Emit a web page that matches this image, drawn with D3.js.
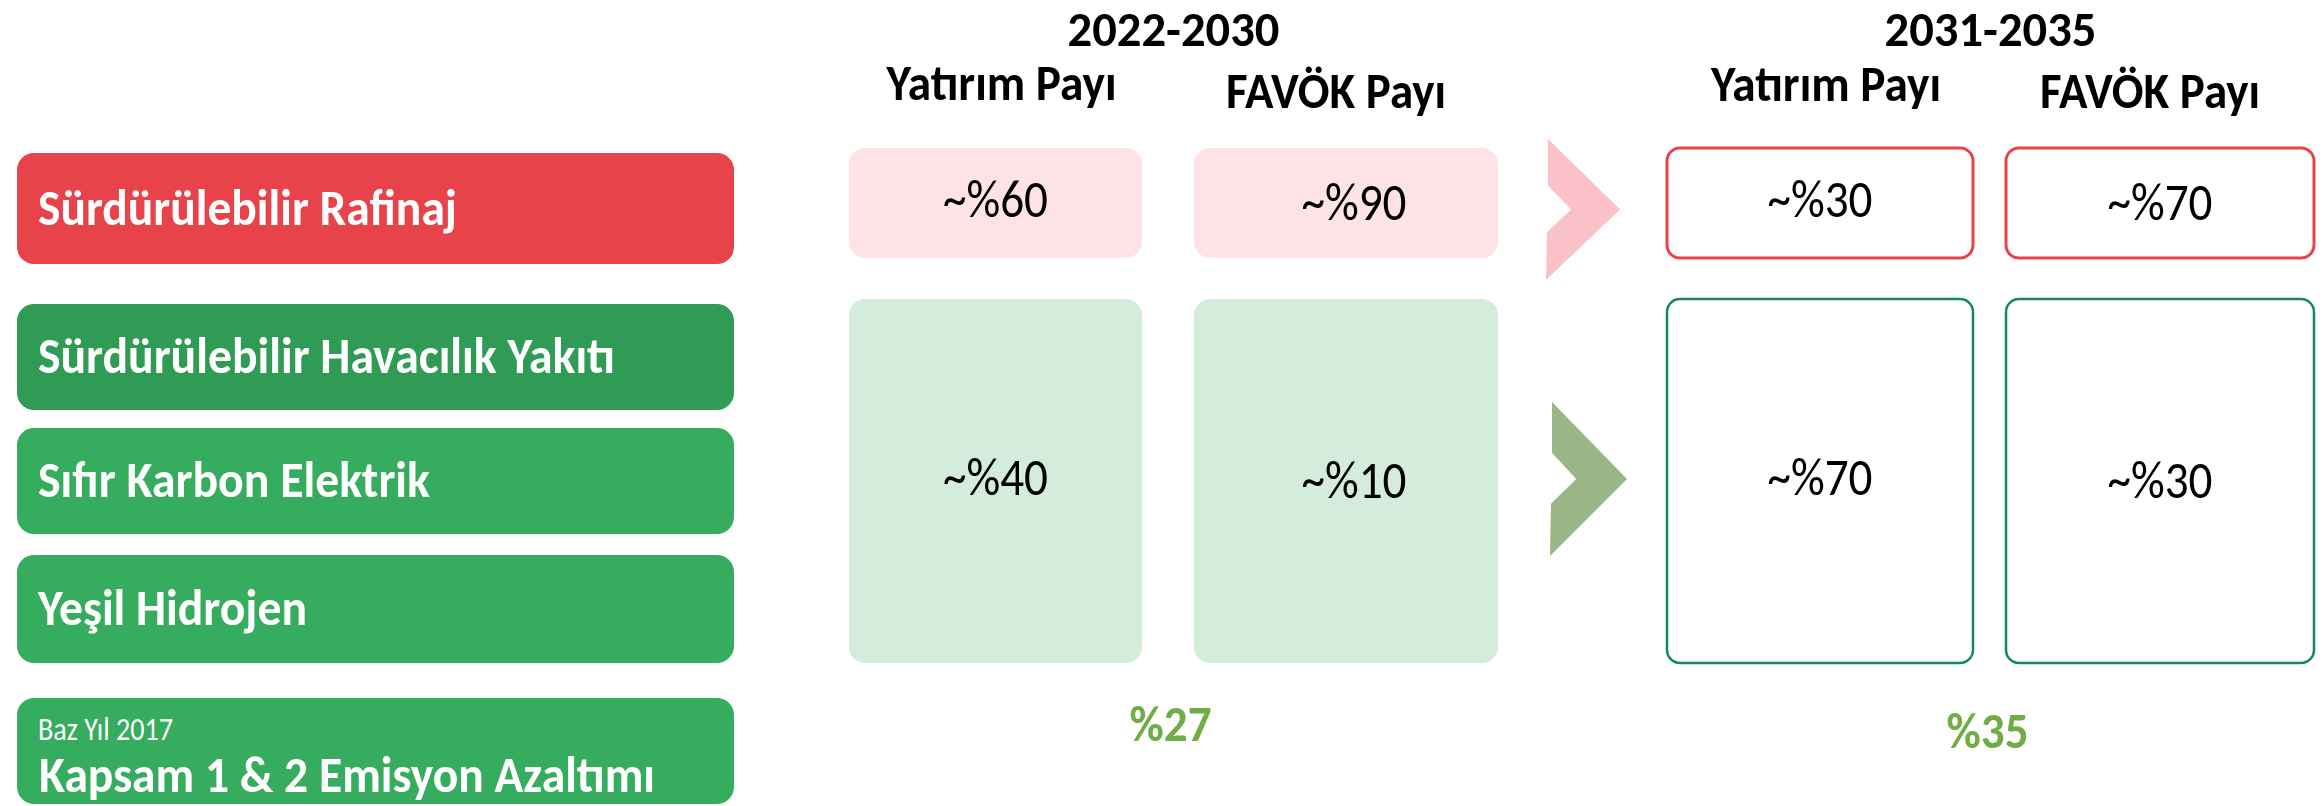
<!DOCTYPE html>
<html>
<head>
<meta charset="utf-8">
<script src="https://cdn.jsdelivr.net/npm/d3@7"></script>
<style>
  html, body { margin: 0; padding: 0; background: #ffffff; }
  svg { display: block; }
  text { font-family: Carlito, Calibri, Lato, "Open Sans", sans-serif; }
</style>
</head>
<body>
<svg id="chart" width="2323" height="806"></svg>
<script>
// ---------------- DATA ----------------
const categories = [
  "Sürdürülebilir Rafinaj",
  "Sürdürülebilir Havacılık Yakıtı",
  "Sıfır Karbon Elektrik",
  "Yeşil Hidrojen"
];
const baseYearLabel = "Baz Yıl 2017";
const emissionLabel = "Kapsam 1 & 2 Emisyon Azaltımı";
const periods = ["2022-2030", "2031-2035"];
const metrics = ["Yatırım Payı", "FAVÖK Payı"];
const segments = ["Rafinaj", "Yeşil"];           // row groups of share boxes
const investShare2022 = [60, 40];               // Yatırım Payı 2022-2030 (Rafinaj, Yeşil)
const ebitdaShare2022 = [90, 10];               // FAVÖK Payı 2022-2030
const investShare2035 = [30, 70];               // Yatırım Payı 2031-2035
const ebitdaShare2035 = [70, 30];               // FAVÖK Payı 2031-2035
const emissionReduction = [27, 35];             // % per period

// ---------------- BUILD TABLE ----------------
const shareTable = [
  [investShare2022, ebitdaShare2022],
  [investShare2035, ebitdaShare2035]
];
const cells = [];
periods.forEach((p, pi) => metrics.forEach((m, mi) => segments.forEach((s, si) => {
  cells.push({ period: p, pi, metric: m, mi, segment: s, si, value: shareTable[pi][mi][si] });
})));

// ---------------- LAYOUT ----------------
const svg = d3.select("#chart");
svg.append("rect").attr("width", 2323).attr("height", 806).attr("fill", "#ffffff");

// left category boxes
const leftKeys = categories.concat([emissionLabel]);
const leftY = d3.scaleOrdinal().domain(leftKeys).range([153, 304, 428, 555, 698]);
const leftH = d3.scaleOrdinal().domain(leftKeys).range([111, 106, 106, 108, 106]);
const leftFill = d3.scaleOrdinal().domain(leftKeys).range(["#E8424A", "#2F9B54", "#35AC5E", "#35AC5E", "#35AC5E"]);
const leftTextLen = d3.scaleOrdinal().domain(leftKeys).range([419, 577, 392, 269, 616]);
const leftX = 17, leftW = 717;
const CAP = 0.644; // cap-height ratio (Calibri/Carlito metrics)

const lg = svg.append("g");
lg.selectAll("rect.cat").data(leftKeys).join("rect")
  .attr("class", "cat")
  .attr("x", leftX).attr("y", d => leftY(d))
  .attr("width", leftW).attr("height", d => leftH(d))
  .attr("rx", 17).attr("ry", 17)
  .attr("fill", d => leftFill(d));

const catFont = 33 / CAP;
lg.selectAll("text.cat").data(categories).join("text")
  .attr("class", "cat")
  .attr("x", 38)
  .attr("y", d => leftY(d) + leftH(d) / 2 + 16)
  .attr("fill", "#ffffff")
  .attr("font-weight", 700)
  .attr("font-size", catFont)
  .attr("textLength", d => leftTextLen(d))
  .attr("lengthAdjust", "spacingAndGlyphs")
  .text(d => d);

lg.append("text")
  .attr("x", 38).attr("y", 740)
  .attr("fill", "#ffffff").attr("font-weight", 400)
  .attr("font-size", 21 / CAP)
  .attr("textLength", 135).attr("lengthAdjust", "spacingAndGlyphs")
  .text(baseYearLabel);
lg.append("text")
  .attr("x", 39).attr("y", 792)
  .attr("fill", "#ffffff").attr("font-weight", 700)
  .attr("font-size", 33 / CAP)
  .attr("textLength", leftTextLen(emissionLabel)).attr("lengthAdjust", "spacingAndGlyphs")
  .text(emissionLabel);

// share-box columns
const colKey = (pi, mi) => periods[pi] + "|" + metrics[mi];
const colKeys = [colKey(0,0), colKey(0,1), colKey(1,0), colKey(1,1)];
const colX = d3.scaleOrdinal().domain(colKeys).range([849, 1194, 1667, 2006]);
const colW = d3.scaleOrdinal().domain(colKeys).range([293, 304, 306, 308]);
const rowTop = d3.scaleOrdinal().domain(segments).range([148, 299]);
const rowH = d3.scaleOrdinal().domain(segments).range([110, 364]);

const fillStyle = {
  "0|Rafinaj": { fill: "#FEE3E6", stroke: "none", sw: 0 },
  "0|Yeşil":   { fill: "#D4ECDC", stroke: "none", sw: 0 },
  "1|Rafinaj": { fill: "#ffffff", stroke: "#E8424A", sw: 3 },
  "1|Yeşil":   { fill: "#ffffff", stroke: "#138A5C", sw: 2.5 }
};

const cg = svg.append("g");
cg.selectAll("rect.share").data(cells).join("rect")
  .attr("class", "share")
  .attr("x", d => colX(colKey(d.pi, d.mi)))
  .attr("y", d => rowTop(d.segment))
  .attr("width", d => colW(colKey(d.pi, d.mi)))
  .attr("height", d => rowH(d.segment))
  .attr("rx", d => d.pi === 0 ? 16 : 13)
  .attr("ry", d => d.pi === 0 ? 16 : 13)
  .attr("fill", d => fillStyle[d.pi + "|" + d.segment].fill)
  .attr("stroke", d => fillStyle[d.pi + "|" + d.segment].stroke)
  .attr("stroke-width", d => fillStyle[d.pi + "|" + d.segment].sw);

const valFont = 34 / CAP;
cg.selectAll("text.share").data(cells).join("text")
  .attr("class", "share")
  .attr("x", d => colX(colKey(d.pi, d.mi)) + colW(colKey(d.pi, d.mi)) / 2 + (d.mi === 1 && d.pi === 0 ? 8 : 0))
  .attr("y", d => rowTop(d.segment) + rowH(d.segment) / 2 + 14 + (d.mi === 1 ? 3 : 0))
  .attr("text-anchor", "middle")
  .attr("fill", "#000000")
  .attr("font-weight", 400)
  .attr("font-size", valFont)
  .attr("textLength", 105)
  .attr("lengthAdjust", "spacingAndGlyphs")
  .text(d => "~%" + d.value);

// headers
const periodCenter = pi => (colX(colKey(pi, 0)) + colX(colKey(pi, 1)) + colW(colKey(pi, 1))) / 2;
const hg = svg.append("g");
hg.selectAll("text.period").data(periods).join("text")
  .attr("class", "period")
  .attr("x", (d, i) => periodCenter(i))
  .attr("y", 46)
  .attr("text-anchor", "middle")
  .attr("font-weight", 700)
  .attr("font-size", 31 / CAP)
  .attr("fill", "#000000")
  .attr("textLength", 212)
  .attr("lengthAdjust", "spacingAndGlyphs")
  .text(d => d);

const headerCells = [];
periods.forEach((p, pi) => metrics.forEach((m, mi) => headerCells.push({ pi, mi, label: m })));
hg.selectAll("text.metric").data(headerCells).join("text")
  .attr("class", "metric")
  .attr("x", d => colX(colKey(d.pi, d.mi)) + colW(colKey(d.pi, d.mi)) / 2 + (d.mi === 0 ? 6 : -10))
  .attr("y", d => d.mi === 0 ? 100 + d.pi * 1 : 108)
  .attr("text-anchor", "middle")
  .attr("font-weight", 700)
  .attr("font-size", 32 / CAP)
  .attr("fill", "#000000")
  .attr("textLength", d => d.mi === 0 ? 230 : 220)
  .attr("lengthAdjust", "spacingAndGlyphs")
  .text(d => d.label);

// chevrons
const chevrons = [
  { segment: "Rafinaj", x0: 1546, y0: 139, w: 74, h: 141, fill: "#FBC1C8" },
  { segment: "Yeşil",   x0: 1550, y0: 402, w: 77, h: 154, fill: "#9BB686" }
];
const chevPts = c => [
  [c.x0 + 2, c.y0],
  [c.x0 + c.w, c.y0 + c.h * 0.5],
  [c.x0, c.y0 + c.h],
  [c.x0 + 1, c.y0 + c.h * 0.66],
  [c.x0 + c.w * 0.34, c.y0 + c.h * 0.5],
  [c.x0 + 2, c.y0 + c.h * 0.33]
];
const line = d3.line();
svg.append("g").selectAll("path").data(chevrons).join("path")
  .attr("d", d => line(chevPts(d)) + "Z")
  .attr("fill", d => d.fill);

// emission reduction
svg.append("g").selectAll("text").data(emissionReduction).join("text")
  .attr("x", (d, i) => periodCenter(i) - 3)
  .attr("y", (d, i) => i === 0 ? 741 : 748)
  .attr("text-anchor", "middle")
  .attr("font-weight", 700)
  .attr("font-size", 32 / CAP)
  .attr("fill", "#70AD47")
  .attr("textLength", 82)
  .attr("lengthAdjust", "spacingAndGlyphs")
  .text(d => "%" + d);
</script>
</body>
</html>
